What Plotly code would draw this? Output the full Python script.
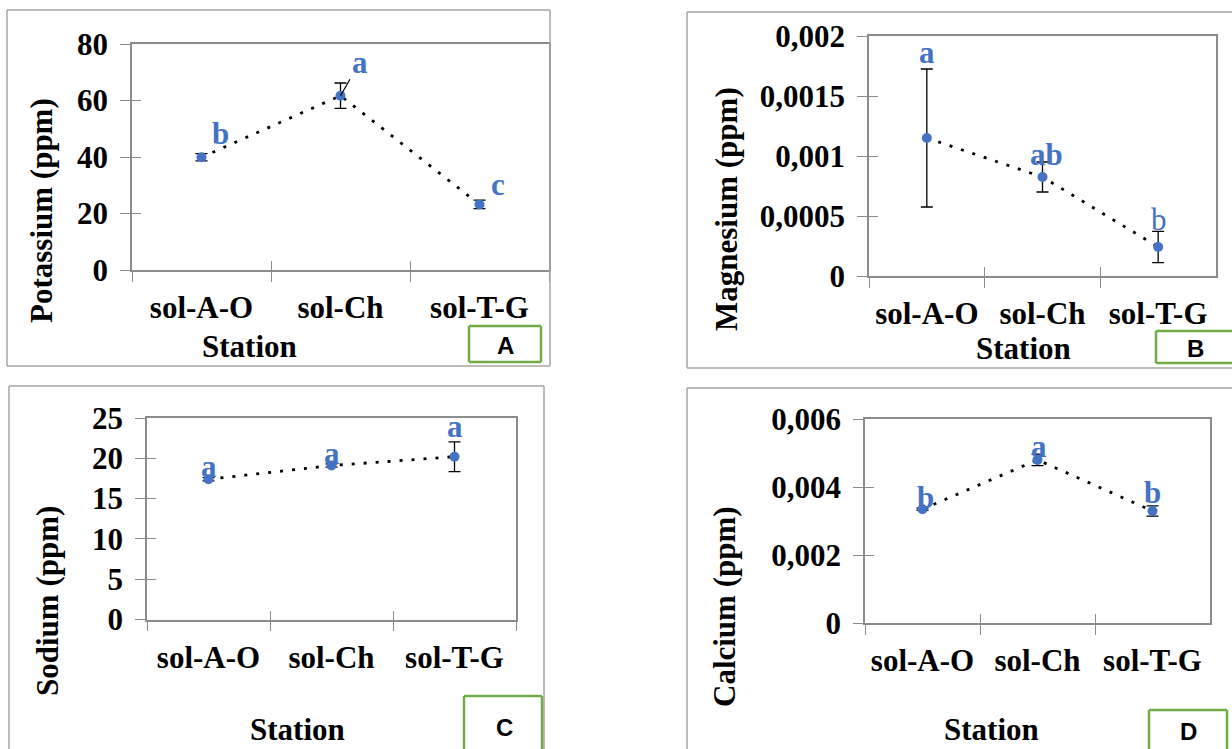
import plotly.graph_objects as go

W, H = 1232, 749

stations = ["sol-A-O", "sol-Ch", "sol-T-G"]

potassium = [39.9, 61.7, 23.2]
potassium_err = [1.3, 4.5, 1.5]
potassium_letters = ["b", "a", "c"]

magnesium = [0.00115, 0.000825, 0.000242]
magnesium_err = [0.000575, 0.000125, 0.00013]
magnesium_letters = ["a", "ab", "b"]

sodium = [17.4, 19.1, 20.2]
sodium_err = [0.2, 0.2, 1.85]
sodium_letters = ["a", "a", "a"]

calcium = [0.00335, 0.0048, 0.0033]
calcium_err = [0.00003, 0.00017, 0.00015]
calcium_letters = ["b", "a", "b"]

k_tickvals = [0, 20, 40, 60, 80]
k_ticktext = ["0", "20", "40", "60", "80"]
mg_tickvals = [0, 0.0005, 0.001, 0.0015, 0.002]
mg_ticktext = ["0", "0,0005", "0,001", "0,0015", "0,002"]
na_tickvals = [0, 5, 10, 15, 20, 25]
na_ticktext = ["0", "5", "10", "15", "20", "25"]
ca_tickvals = [0, 0.002, 0.004, 0.006]
ca_ticktext = ["0", "0,002", "0,004", "0,006"]

# box edges: (left, right, top, bottom); None = edge runs off the canvas
panels = [
    dict(vals=potassium, err=potassium_err, letters=potassium_letters,
         tv=k_tickvals, tt=k_ticktext, ymax=80, title="Potassium (ppm)", tag="A",
         plot=(132, 549, 44, 270), outer=(7, 550, 10, 366), ytitle=(41, 211),
         station=(249, 346), green=(469, 541, 326, 362), tagpos=(505, 345),
         offs=[(19, 24), None, (18, 20)], arrow={1: (19, -33)},
         bold=[True, True, True]),
    dict(vals=magnesium, err=magnesium_err, letters=magnesium_letters,
         tv=mg_tickvals, tt=mg_ticktext, ymax=0.002, title="Magnesium (ppm)", tag="B",
         plot=(869, 1216, 36, 276), outer=(687, None, 12, 368), ytitle=(726, 209),
         station=(1023, 348), green=(1156, None, 331, 363), tagpos=(1195, 348),
         offs=[(0, 86), (4, 23), (1, 27)], arrow={},
         bold=[True, True, False]),
    dict(vals=sodium, err=sodium_err, letters=sodium_letters,
         tv=na_tickvals, tt=na_ticktext, ymax=25, title="Sodium (ppm)", tag="C",
         plot=(147, 516, 418, 619.5), outer=(9, 544, 386, None), ytitle=(47, 601),
         station=(297, 729), green=(464, 542, 696, None), tagpos=(504, 727),
         offs=[(0, 13), (0, 12), (0, 30)], arrow={},
         bold=[True, True, True]),
    dict(vals=calcium, err=calcium_err, letters=calcium_letters,
         tv=ca_tickvals, tt=ca_ticktext, ymax=0.006, title="Calcium (ppm)", tag="D",
         plot=(865, 1210, 419, 623.3), outer=(687, None, 388, None), ytitle=(724, 607),
         station=(991, 729), green=(1149, 1227, 710, None), tagpos=(1188, 731),
         offs=[(3, 12), (1, 13), (0, 18)], arrow={},
         bold=[True, True, True]),
]

SERIF = "Liberation Serif"
AXC = "#8c8c8c"
BLUE = "#4472C4"


def px(x):
    return x / W


def py(y):
    return 1 - y / H


def key(n, l):
    return f"{l}axis" + ("" if n == 1 else str(n))


def ref(n, l):
    return l + ("" if n == 1 else str(n))


def box_shapes(edges, color, width, fill=None):
    l, r, t, b = edges
    rr = W if r is None else r
    bb = H if b is None else b
    out = []
    if fill:
        out.append(dict(type="rect", xref="paper", yref="paper",
                        x0=px(l), x1=px(rr), y0=py(bb), y1=py(t),
                        line=dict(width=0), fillcolor=fill, layer="above"))
    segs = [((l, t), (rr, t)), ((l, t), (l, bb))]
    if r is not None:
        segs.append(((r, t), (r, bb)))
    if b is not None:
        segs.append(((l, b), (rr, b)))
    for (ax, ay), (bx, by) in segs:
        out.append(dict(type="line", xref="paper", yref="paper",
                        x0=px(ax), y0=py(ay), x1=px(bx), y1=py(by),
                        line=dict(color=color, width=width), layer="above"))
    return out


fig = go.Figure()
layout = {}
shapes = []
annotations = []
tickfont = dict(family=SERIF, size=31, color="black", weight="bold")

for k, p in enumerate(panels):
    n = k + 1
    m = k + 5
    xr, yr = ref(n, "x"), ref(n, "y")
    xo, yo = ref(m, "x"), ref(m, "y")
    x0, x1, y0, y1 = p["plot"]

    fig.add_trace(go.Scatter(
        x=stations, y=p["vals"], mode="lines+markers",
        line=dict(color="black", width=2.8, dash="3px,9px"),
        marker=dict(color=BLUE, size=10),
        error_y=dict(type="data", array=p["err"], color="black", thickness=1.3, width=6),
        xaxis=xr, yaxis=yr, showlegend=False, hoverinfo="skip"))
    fig.add_trace(go.Scatter(x=[], y=[], xaxis=xo, yaxis=yo, showlegend=False,
                             hoverinfo="skip"))

    layout[key(n, "x")] = dict(
        domain=[px(x0), px(x1)], anchor=yr, type="category",
        categoryorder="array", categoryarray=stations, range=[-0.5, 2.5],
        tickson="boundaries", ticks="outside", ticklen=10, tickwidth=1.3,
        tickcolor=AXC, showline=True, linecolor=AXC, linewidth=1.6, mirror=True,
        showgrid=False, zeroline=False, tickfont=tickfont, ticklabelstandoff=9,
        automargin=False)
    layout[key(n, "y")] = dict(
        domain=[py(y1), py(y0)], anchor=xr, range=[0, p["ymax"]],
        tickvals=p["tv"], ticktext=p["tt"], ticks="outside", ticklen=10,
        tickwidth=1.3, tickcolor=AXC, showline=True, linecolor=AXC, linewidth=1.6,
        mirror=True, showgrid=False, zeroline=False, tickfont=tickfont,
        ticklabelstandoff=6, automargin=False)
    layout[key(m, "x")] = dict(
        overlaying=xr, anchor=yo, range=[-0.5, 2.5], tickvals=[-0.5, 0.5, 1.5],
        ticks="inside", ticklen=9, tickwidth=1.3, tickcolor=AXC,
        showticklabels=False, showline=False, showgrid=False, zeroline=False,
        automargin=False)
    layout[key(m, "y")] = dict(
        overlaying=yr, anchor=xo, range=[0, p["ymax"]], tickvals=p["tv"],
        ticks="inside", ticklen=9, tickwidth=1.3, tickcolor=AXC,
        showticklabels=False, showline=False, showgrid=False, zeroline=False,
        automargin=False)

    shapes += box_shapes(p["outer"], "#a6a6a6", 1.5)
    shapes += box_shapes(p["green"], "#70AD47", 2.5, fill="white")
    annotations.append(dict(xref="paper", yref="paper", x=px(p["tagpos"][0]),
                            y=py(p["tagpos"][1]), text=p["tag"], showarrow=False,
                            xanchor="center", yanchor="middle",
                            font=dict(family="Liberation Sans", size=24,
                                      color="black", weight="bold")))
    annotations.append(dict(xref="paper", yref="paper", x=px(p["station"][0]),
                            y=py(p["station"][1]), text="Station", showarrow=False,
                            xanchor="center", yanchor="middle",
                            font=dict(family=SERIF, size=31, color="black",
                                      weight="bold")))
    annotations.append(dict(xref="paper", yref="paper", x=px(p["ytitle"][0]),
                            y=py(p["ytitle"][1]), text=p["title"], showarrow=False,
                            textangle=-90, xanchor="center", yanchor="middle",
                            font=dict(family=SERIF, size=31, color="black",
                                      weight="bold")))
    for i, (st, v, let) in enumerate(zip(stations, p["vals"], p["letters"])):
        f = dict(family=SERIF, size=31, color=BLUE,
                 weight="bold" if p["bold"][i] else "normal")
        if i in p["arrow"]:
            ax, ay = p["arrow"][i]
            annotations.append(dict(xref=xr, yref=yr, x=st, y=v, text=let,
                                    showarrow=True, arrowhead=0, arrowwidth=1.2,
                                    arrowcolor="black", ax=ax, ay=ay, standoff=0,
                                    font=f))
        else:
            dx, dy = p["offs"][i]
            annotations.append(dict(xref=xr, yref=yr, x=st, y=v, text=let,
                                    showarrow=False, xshift=dx, yshift=dy,
                                    xanchor="center", yanchor="middle", font=f))

fig.update_layout(**layout)
fig.update_layout(width=W, height=H, autosize=False,
                  margin=dict(l=0, r=0, t=0, b=0, pad=0, autoexpand=False),
                  paper_bgcolor="white", plot_bgcolor="white",
                  shapes=shapes, annotations=annotations, showlegend=False)

fig.write_html("out.html")
